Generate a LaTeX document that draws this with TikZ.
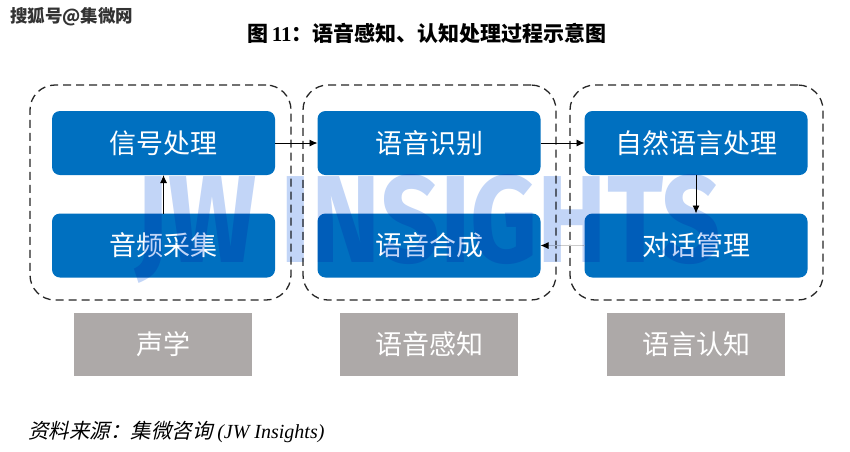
\documentclass[tikz,border=0pt]{standalone}
\usepackage{fontspec}
\usetikzlibrary{arrows.meta}
\newfontfamily\cjk{Noto Sans CJK SC}
\newfontfamily\cjksl[FakeSlant=0.22]{Noto Sans CJK SC}
\newfontfamily\tms{Liberation Serif}
\newfontfamily\wmfont{Fira Sans}
\definecolor{boxblue}{HTML}{0070C0}
\definecolor{boxgray}{HTML}{ADA9A8}
\definecolor{wmblue}{HTML}{C2D5F7}
\tikzset{
  bluebox/.style={draw=none, fill=boxblue, rounded corners=8pt, minimum width=223pt, minimum height=64pt, inner sep=0pt, outer sep=0pt, text=white, font=\cjk\fontsize{27}{30}\selectfont},
  graybox/.style={draw=none, fill=boxgray, minimum width=178pt, minimum height=63pt, inner sep=0pt, outer sep=0pt, text=white, font=\cjk\fontsize{27}{30}\selectfont},
  groupbox/.style={draw=black!85, line width=1.3pt, dash pattern=on 8pt off 5pt, rounded corners=25pt, minimum height=215pt, inner sep=0pt, outer sep=0pt},
  arr/.style={draw=black, line width=0.9pt, -{Latex[length=8pt,width=7pt]}},
  arrg/.style={draw=black!20, line width=0.9pt, -{Latex[length=8pt,width=7pt,black]}}
}
\begin{document}
\begin{tikzpicture}[x=1pt,y=-1pt]
\useasboundingbox (0,0) rectangle (850,451);
\fill[white] (0,0) rectangle (850,451);
% watermark top-left
\node[anchor=west, inner sep=0pt, font=\cjk\bfseries\fontsize{17.5}{19}\selectfont, text=black!80] (wm) at (10,17) {搜狐号@集微网};
% title
\node[inner sep=0pt, font=\cjk\bfseries\fontsize{21}{24}\selectfont] (title) at (427,33) {图\,{\tms\bfseries 11}：语音感知、认知处理过程示意图};
% group boxes
\node[groupbox, minimum width=261pt] (g1) at (160.5,192.5) {};
\node[groupbox, minimum width=253pt] (g2) at (429.5,192.5) {};
\node[groupbox, minimum width=253pt] (g3) at (696.5,192.5) {};
% blue boxes
\node[bluebox] (b1) at (163.5,143) {信号处理};
\node[bluebox] (b2) at (163.5,245.5) {音频采集};
\node[bluebox] (b3) at (429,143) {语音识别};
\node[bluebox] (b4) at (429,245.5) {语音合成};
\node[bluebox] (b5) at (696,143) {自然语言处理};
\node[bluebox] (b6) at (696,245.5) {对话管理};
% gray labels
\node[graybox] (l1) at (163,344.5) {声学};
\node[graybox] (l2) at (429,344.5) {语音感知};
\node[graybox] (l3) at (696,344.5) {语言认知};
% arrows
\draw[arr] (b2.north) -- (b1.south);
\draw[arr] (b1.east) -- (b3.west);
\draw[arr] (b3.east) -- (b5.west);
\draw[arr] (b5.south) -- (b6.north);
\draw[arrg] (b6.west) -- (b4.east);
% JW INSIGHTS watermark
\begin{scope}[blend mode=multiply]
\node[inner sep=0pt, text=wmblue, font=\wmfont\bfseries\fontsize{124}{126}\selectfont] (jw) at (428,229) {\scalebox{0.84}[1]{JW INSIGHTS}};
\end{scope}
% source
\node[anchor=west, inner sep=0pt, font=\cjksl\fontsize{20.5}{23}\selectfont] (src) at (28,432) {资料来源：集微咨询 {\tms\itshape\fontsize{20}{23}\selectfont (JW Insights)}};
\end{tikzpicture}
\end{document}
